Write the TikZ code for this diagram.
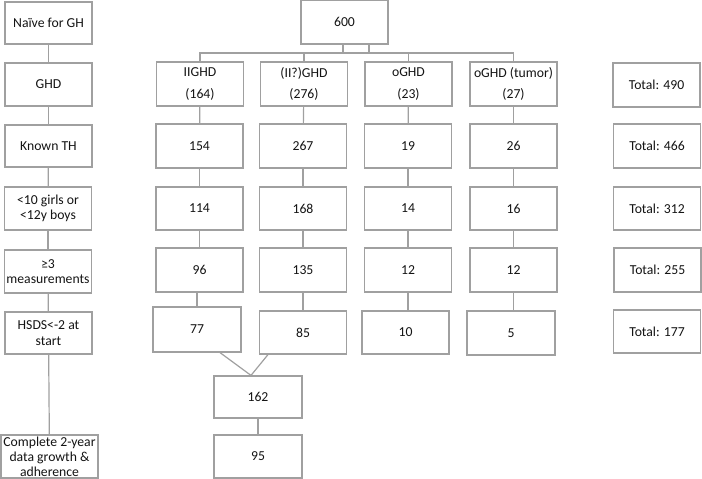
\documentclass[tikz,border=0pt]{standalone}
\usepackage{fontspec}
\setmainfont{Carlito}
\usepackage{tikz}
\definecolor{boxgray}{RGB}{160,160,160}
\definecolor{txtgray}{RGB}{20,20,20}

\begin{document}
\begin{tikzpicture}[
	x=1pt, y=-1pt,
	box/.style = {draw=boxgray, line width=1.2pt, fill=white, minimum width=87pt, minimum height=43pt,
		inner sep=1pt, align=center, text=txtgray, font=\fontsize{13.7}{15.5}\selectfont},
	link/.style = {draw=boxgray, line width=1.2pt}
	]

	\useasboundingbox (0,0) rectangle (702,479);

	\node[box, minimum height=42pt] (naive) at (48.5,23) {Naïve for GH};
	\node[box] (ghd) at (48.5,84.5) {GHD};
	\node[box, minimum height=42pt] (th) at (48.5,146) {Known TH};
	\node[box] (age) at (48,208.5) {<10 girls or\\<12y boys};
	\node[box] (meas) at (48,271.5) {≥3\\measurements};
	\node[box, minimum height=42pt] (hsds) at (48.5,333) {HSDS<-2 at\\start};
	\node[box, minimum width=97pt, minimum height=43pt, font=\fontsize{13.7}{15}\selectfont] (compl) at (49.5,456.5) {Complete 2-year\\data growth \&\\adherence};

	\node[box, minimum height=44pt] (all) at (344.5,22) {600};

	\node[box, minimum height=44pt] (iso1) at (200,84) {IIGHD\\[6pt](164)};
	\node[box, minimum height=44pt] (unk1) at (304,84) {(II?)GHD\\[6pt](276)};
	\node[box, minimum height=44pt] (org1) at (408.5,84) {oGHD\\[6pt](23)};
	\node[box, minimum height=44pt] (tum1) at (513.5,84) {oGHD (tumor)\\[6pt](27)};
	\node[box, minimum height=44pt] (tot1) at (656.5,85) {Total: 490};

	\node[box, minimum height=44pt] (iso2) at (199.5,146) {154};
	\node[box, minimum height=44pt] (unk2) at (303,146) {267};
	\node[box, minimum height=44pt] (org2) at (408,146) {19};
	\node[box, minimum height=44pt] (tum2) at (513.5,146) {26};
	\node[box, minimum height=44pt] (tot2) at (657,146) {Total: 466};

	\node[box] (iso3) at (199.5,208.5) {114};
	\node[box] (unk3) at (303,208.5) {168};
	\node[box] (org3) at (408,208.5) {14};
	\node[box] (tum3) at (513.5,208.5) {16};
	\node[box] (tot3) at (657,208.5) {Total: 312};

	\node[box, minimum height=44pt] (iso4) at (199.5,270) {96};
	\node[box, minimum height=44pt] (unk4) at (303,270) {135};
	\node[box, minimum height=44pt] (org4) at (408,270) {12};
	\node[box, minimum height=44pt] (tum4) at (513.5,270) {12};
	\node[box, minimum height=44pt] (tot4) at (657.5,270) {Total: 255};

	\node[box, minimum width=88pt, minimum height=45pt] (iso5) at (197,329.5) {77};
	\node[box] (unk5) at (303,332.5) {85};
	\node[box] (org5) at (405.5,332.5) {10};
	\node[box, minimum width=88pt, minimum height=44pt] (tum5) at (511,333) {5};
	\node[box] (tot5) at (657,331.5) {Total: 177};

	\node[box, minimum width=88pt, minimum height=42pt] (comb) at (258,397) {162};
	\node[box, minimum width=88pt] (final) at (258,456.5) {95};

	\coordinate (bar) at (356,53);
	\coordinate (stubL) at (343,53);
	\coordinate (stubR) at (369,53);

	\draw[link] (naive) -- (ghd);
	\draw[link] (ghd) -- (th);
	\draw[link] (th) -- (age);
	\draw[link] (age) -- (meas);
	\draw[link] (meas) -- (hsds);
	\draw[link] (hsds) -- (compl);

	\draw[link] (all.south -| stubL) -- (stubL);
	\draw[link] (all.south -| stubR) -- (stubR);
	\draw[link] (iso1) |- (bar) -| (tum1);
	\draw[link] (unk1) -- (unk1 |- bar);
	\draw[link] (org1) -- (org1 |- bar);

	\draw[link] (iso1) -- (iso2);
	\draw[link] (iso2) -- (iso3);
	\draw[link] (iso3) -- (iso4);
	\draw[link] (iso5) -- (iso5 |- iso4.south);
	\draw[link] (unk1) -- (unk2);
	\draw[link] (unk2) -- (unk3);
	\draw[link] (unk3) -- (unk4);
	\draw[link] (unk4) -- (unk4 |- unk5.north);
	\draw[link] (org1) -- (org2);
	\draw[link] (org2) -- (org3);
	\draw[link] (org3) -- (org4);
	\draw[link] (org4) -- (org4 |- org5.north);
	\draw[link] (tum1) -- (tum2);
	\draw[link] (tum2) -- (tum3);
	\draw[link] (tum3) -- (tum4);
	\draw[link] (tum4) -- (tum4 |- tum5.north);

	\draw[link] ([xshift=23pt]iso5.south) -- ([xshift=-7pt]comb.north);
	\draw[link] ([xshift=-35pt]unk5.south) -- ([xshift=-7pt]comb.north);
	\draw[link] (comb) -- (final);
\end{tikzpicture}
\end{document}
